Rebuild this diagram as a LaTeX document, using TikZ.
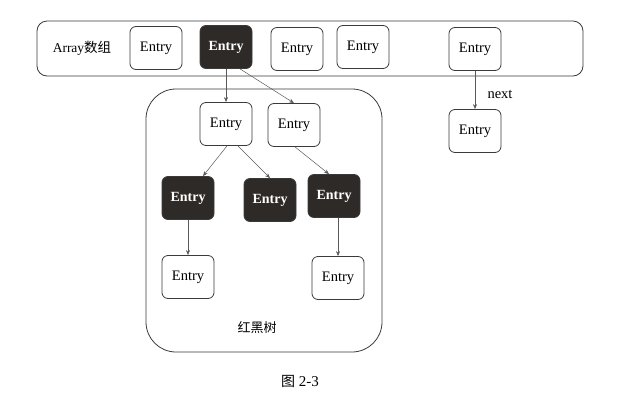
\documentclass[tikz,border=0pt]{standalone}
\usepackage{fontspec}
\setmainfont{Liberation Serif}
\newfontfamily\cjk{Noto Sans CJK SC}
\usetikzlibrary{arrows.meta}

\definecolor{inkgray}{HTML}{3A3A3A}
\definecolor{darkfill}{HTML}{2E2A28}

\tikzset{
    entrybox/.style={draw=inkgray,line width=0.8pt,rounded corners=6pt,fill=white,
        minimum width=52pt,minimum height=43pt,inner sep=0pt,
        font=\fontsize{14.5}{16}\selectfont},
    darkbox/.style={entrybox,fill=darkfill,text=white,
        font=\fontsize{14}{16}\selectfont\bfseries},
    link/.style={-{Stealth[length=5pt,width=4pt]},draw=gray!70!black,line width=0.5pt}
}

\begin{document}
\begin{tikzpicture}[x=1pt,y=-1pt]
\useasboundingbox (0,0) rectangle (627,402);

% Array outline
\draw[inkgray,line width=0.8pt,rounded corners=10pt] (37,21) rectangle (583,76);
\node (arrlabel) at (82,48) {\fontsize{13.5}{15}\selectfont Array\cjk 数组};

% entries of the array
\node[entrybox] (arr1) at (156,48) {Entry};
\node[darkbox]  (arr2) at (226,47) {Entry};
\node[entrybox] (arr3) at (297,49) {Entry};
\node[entrybox] (arr4) at (363,47) {Entry};
\node[entrybox] (arr5) at (475,49) {Entry};

% linked list
\node[entrybox] (nxt) at (475,131) {Entry};
\draw[link] (arr5) -- (nxt);
\node (nextlabel) at (500,94) {\fontsize{14.5}{16}\selectfont next};

% Red-black tree outline
\draw[inkgray,line width=0.8pt,rounded corners=30pt] (146,89) rectangle (382,352);
\node (treelabel) at (257,328) {\cjk\fontsize{13}{15}\selectfont 红黑树};

% tree entries
\node[entrybox] (t1) at (226,124) {Entry};
\node[entrybox] (t2) at (294,125) {Entry};
\node[darkbox]  (d1) at (188,198) {Entry};
\node[darkbox]  (d2) at (270,200) {Entry};
\node[darkbox]  (d3) at (334,196) {Entry};
\node[entrybox] (b1) at (188,277) {Entry};
\node[entrybox] (b2) at (338,278) {Entry};

% arrows
\draw[link] (arr2) -- (t1);
\draw[link] ([xshift=14pt]arr2.south) -- (t2.north);
\draw[link] ([xshift=1pt]t1.south) -- ([xshift=15pt]d1.north);
\draw[link] ([xshift=12pt]t1.south) -- (d2.north);
\draw[link] ([xshift=1pt]t2.south) -- ([xshift=-5pt]d3.north);
\draw[link] (d1) -- (b1);
\draw[link] ([xshift=4pt]d3.south) -- (b2.north);

% caption
\node (caption) at (300,381) {\fontsize{15}{17}\selectfont{\cjk\fontsize{14}{16}\selectfont 图} 2-3};
\end{tikzpicture}
\end{document}
